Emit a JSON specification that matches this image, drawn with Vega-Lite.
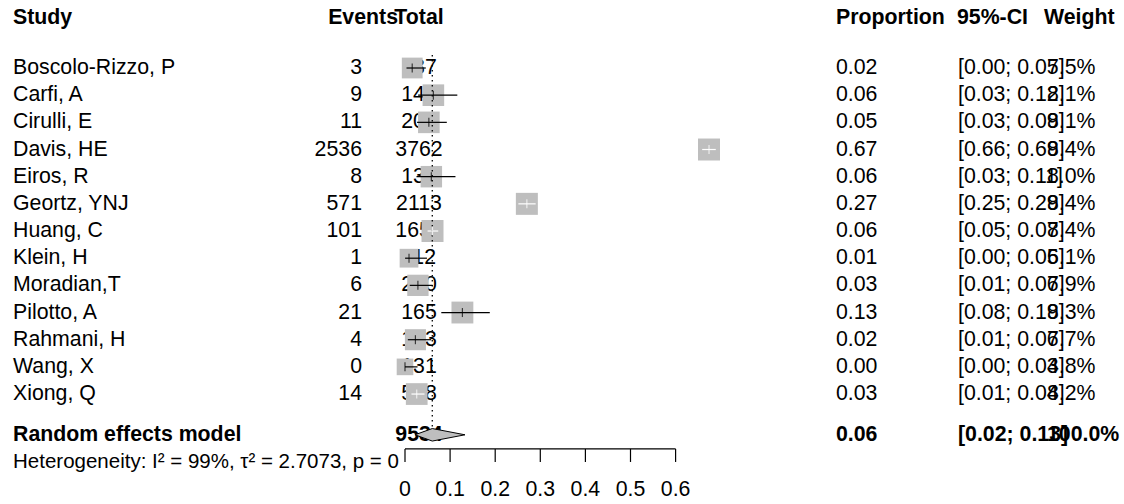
{
  "$schema": "https://vega.github.io/schema/vega-lite/v6.json",
  "width": 1124,
  "height": 504,
  "autosize": {"type": "fit", "contains": "padding"},
  "padding": 0,
  "background": "white",
  "config": {
    "view": {"stroke": null},
    "text": {"font": "Liberation Sans", "fontSize": 21.3, "color": "black", "baseline": "middle"}
  },
  "datasets": {
    "studies": [
      {"study": "Boscolo-Rizzo, P", "events": 3, "total": 187, "proportion": 0.0160, "lower": 0.0033, "upper": 0.0461, "weight": 0.075, "row": 1},
      {"study": "Carfi, A", "events": 9, "total": 143, "proportion": 0.0629, "lower": 0.0291, "upper": 0.1160, "weight": 0.081, "row": 2},
      {"study": "Cirulli, E", "events": 11, "total": 208, "proportion": 0.0529, "lower": 0.0267, "upper": 0.0927, "weight": 0.081, "row": 3},
      {"study": "Davis, HE", "events": 2536, "total": 3762, "proportion": 0.6741, "lower": 0.6589, "upper": 0.6891, "weight": 0.084, "row": 4},
      {"study": "Eiros, R", "events": 8, "total": 137, "proportion": 0.0584, "lower": 0.0255, "upper": 0.1119, "weight": 0.080, "row": 5},
      {"study": "Geortz, YNJ", "events": 571, "total": 2113, "proportion": 0.2702, "lower": 0.2514, "upper": 0.2897, "weight": 0.084, "row": 6},
      {"study": "Huang, C", "events": 101, "total": 1655, "proportion": 0.0610, "lower": 0.0501, "upper": 0.0737, "weight": 0.084, "row": 7},
      {"study": "Klein, H", "events": 1, "total": 112, "proportion": 0.0089, "lower": 0.0002, "upper": 0.0487, "weight": 0.061, "row": 8},
      {"study": "Moradian,T", "events": 6, "total": 210, "proportion": 0.0286, "lower": 0.0106, "upper": 0.0612, "weight": 0.079, "row": 9},
      {"study": "Pilotto, A", "events": 21, "total": 165, "proportion": 0.1273, "lower": 0.0805, "upper": 0.1880, "weight": 0.083, "row": 10},
      {"study": "Rahmani, H", "events": 4, "total": 173, "proportion": 0.0231, "lower": 0.0063, "upper": 0.0581, "weight": 0.077, "row": 11},
      {"study": "Wang, X", "events": 0, "total": 131, "proportion": 0.0, "lower": 0.0, "upper": 0.0278, "weight": 0.048, "row": 12},
      {"study": "Xiong, Q", "events": 14, "total": 538, "proportion": 0.0260, "lower": 0.0143, "upper": 0.0433, "weight": 0.082, "row": 13}
    ],
    "pooled": [
      {"study": "Random effects model", "total": 9534, "proportion": 0.0605, "lower": 0.022, "upper": 0.133, "weight": 1, "row": 14.5}
    ],
    "ticks": [
      {"tick": 0}, {"tick": 0.1}, {"tick": 0.2}, {"tick": 0.3}, {"tick": 0.4}, {"tick": 0.5}, {"tick": 0.6}
    ],
    "one": [{}]
  },
  "layer": [
    {
      "data": {"name": "studies"},
      "mark": {"type": "text", "align": "left"},
      "encoding": {
        "x": {"value": 13},
        "y": {"field": "row", "type": "quantitative", "scale": {"domain": [-1.503, 17.047], "reverse": true, "nice": false, "zero": false}, "axis": null},
        "text": {"field": "study", "type": "nominal"}
      }
    },
    {
      "data": {"name": "studies"},
      "mark": {"type": "text", "align": "right"},
      "encoding": {
        "x": {"value": 362},
        "y": {"field": "row", "type": "quantitative", "scale": {"domain": [-1.503, 17.047], "reverse": true, "nice": false, "zero": false}, "axis": null},
        "text": {"field": "events", "type": "quantitative", "format": "d"}
      }
    },
    {
      "data": {"name": "studies"},
      "mark": {"type": "text", "align": "center"},
      "encoding": {
        "x": {"value": 419},
        "y": {"field": "row", "type": "quantitative", "scale": {"domain": [-1.503, 17.047], "reverse": true, "nice": false, "zero": false}, "axis": null},
        "text": {"field": "total", "type": "quantitative", "format": "d"}
      }
    },
    {
      "data": {"name": "studies"},
      "mark": {"type": "text", "align": "left"},
      "encoding": {
        "x": {"value": 836},
        "y": {"field": "row", "type": "quantitative", "scale": {"domain": [-1.503, 17.047], "reverse": true, "nice": false, "zero": false}, "axis": null},
        "text": {"field": "proportion", "type": "quantitative", "format": ".2f"}
      }
    },
    {
      "data": {"name": "studies"},
      "transform": [
        {"calculate": "'[' + format(datum.lower, '.2f') + '; ' + format(datum.upper, '.2f') + ']'", "as": "ci"}
      ],
      "mark": {"type": "text", "align": "left"},
      "encoding": {
        "x": {"value": 958},
        "y": {"field": "row", "type": "quantitative", "scale": {"domain": [-1.503, 17.047], "reverse": true, "nice": false, "zero": false}, "axis": null},
        "text": {"field": "ci", "type": "nominal"}
      }
    },
    {
      "data": {"name": "studies"},
      "mark": {"type": "text", "align": "left"},
      "encoding": {
        "x": {"value": 1047},
        "y": {"field": "row", "type": "quantitative", "scale": {"domain": [-1.503, 17.047], "reverse": true, "nice": false, "zero": false}, "axis": null},
        "text": {"field": "weight", "type": "quantitative", "format": ".1%"}
      }
    },
    {
      "data": {"name": "pooled"},
      "mark": {"type": "text", "align": "left", "fontWeight": "bold"},
      "encoding": {
        "x": {"value": 13},
        "y": {"field": "row", "type": "quantitative", "scale": {"domain": [-1.503, 17.047], "reverse": true, "nice": false, "zero": false}, "axis": null},
        "text": {"field": "study", "type": "nominal"}
      }
    },
    {
      "data": {"name": "pooled"},
      "mark": {"type": "text", "align": "center", "fontWeight": "bold"},
      "encoding": {
        "x": {"value": 419},
        "y": {"field": "row", "type": "quantitative", "scale": {"domain": [-1.503, 17.047], "reverse": true, "nice": false, "zero": false}, "axis": null},
        "text": {"field": "total", "type": "quantitative", "format": "d"}
      }
    },
    {
      "data": {"name": "pooled"},
      "mark": {"type": "text", "align": "left", "fontWeight": "bold"},
      "encoding": {
        "x": {"value": 836},
        "y": {"field": "row", "type": "quantitative", "scale": {"domain": [-1.503, 17.047], "reverse": true, "nice": false, "zero": false}, "axis": null},
        "text": {"field": "proportion", "type": "quantitative", "format": ".2f"}
      }
    },
    {
      "data": {"name": "pooled"},
      "transform": [
        {"calculate": "'[' + format(datum.lower, '.2f') + '; ' + format(datum.upper, '.2f') + ']'", "as": "ci"}
      ],
      "mark": {"type": "text", "align": "left", "fontWeight": "bold"},
      "encoding": {
        "x": {"value": 958},
        "y": {"field": "row", "type": "quantitative", "scale": {"domain": [-1.503, 17.047], "reverse": true, "nice": false, "zero": false}, "axis": null},
        "text": {"field": "ci", "type": "nominal"}
      }
    },
    {
      "data": {"name": "pooled"},
      "mark": {"type": "text", "align": "left", "fontWeight": "bold"},
      "encoding": {
        "x": {"value": 1047},
        "y": {"field": "row", "type": "quantitative", "scale": {"domain": [-1.503, 17.047], "reverse": true, "nice": false, "zero": false}, "axis": null},
        "text": {"field": "weight", "type": "quantitative", "format": ".1%"}
      }
    },
    {
      "data": {"name": "one"},
      "mark": {"type": "text", "align": "left", "fontSize": 20.5, "text": "Heterogeneity: I² = 99%, τ² = 2.7073, p = 0"},
      "encoding": {
        "x": {"value": 13},
        "y": {"datum": 15.5, "type": "quantitative", "scale": {"domain": [-1.503, 17.047], "reverse": true, "nice": false, "zero": false}, "axis": null}
      }
    },
    {
      "data": {"name": "one"},
      "mark": {"type": "text", "align": "left", "fontWeight": "bold", "text": "Study"},
      "encoding": {
        "x": {"value": 13},
        "y": {"datum": -0.84, "type": "quantitative", "scale": {"domain": [-1.503, 17.047], "reverse": true, "nice": false, "zero": false}, "axis": null}
      }
    },
    {
      "data": {"name": "one"},
      "mark": {"type": "text", "align": "right", "fontWeight": "bold", "text": "Events"},
      "encoding": {
        "x": {"value": 398},
        "y": {"datum": -0.84, "type": "quantitative", "scale": {"domain": [-1.503, 17.047], "reverse": true, "nice": false, "zero": false}, "axis": null}
      }
    },
    {
      "data": {"name": "one"},
      "mark": {"type": "text", "align": "center", "fontWeight": "bold", "text": "Total"},
      "encoding": {
        "x": {"value": 419},
        "y": {"datum": -0.84, "type": "quantitative", "scale": {"domain": [-1.503, 17.047], "reverse": true, "nice": false, "zero": false}, "axis": null}
      }
    },
    {
      "data": {"name": "one"},
      "mark": {"type": "text", "align": "left", "fontWeight": "bold", "text": "Proportion"},
      "encoding": {
        "x": {"value": 836},
        "y": {"datum": -0.84, "type": "quantitative", "scale": {"domain": [-1.503, 17.047], "reverse": true, "nice": false, "zero": false}, "axis": null}
      }
    },
    {
      "data": {"name": "one"},
      "mark": {"type": "text", "align": "left", "fontWeight": "bold", "text": "95%-CI"},
      "encoding": {
        "x": {"value": 957},
        "y": {"datum": -0.84, "type": "quantitative", "scale": {"domain": [-1.503, 17.047], "reverse": true, "nice": false, "zero": false}, "axis": null}
      }
    },
    {
      "data": {"name": "one"},
      "mark": {"type": "text", "align": "left", "fontWeight": "bold", "text": "Weight"},
      "encoding": {
        "x": {"value": 1044},
        "y": {"datum": -0.84, "type": "quantitative", "scale": {"domain": [-1.503, 17.047], "reverse": true, "nice": false, "zero": false}, "axis": null}
      }
    },
    {
      "data": {"name": "studies"},
      "mark": {"type": "point", "shape": "square", "filled": true, "color": "#BEBEBE", "opacity": 1, "strokeWidth": 0},
      "encoding": {
        "x": {"field": "proportion", "type": "quantitative", "scale": {"domain": [-0.898, 1.59424], "nice": false, "zero": false}, "axis": null},
        "y": {"field": "row", "type": "quantitative", "scale": {"domain": [-1.503, 17.047], "reverse": true, "nice": false, "zero": false}, "axis": null},
        "size": {"field": "weight", "type": "quantitative", "scale": {"domain": [0, 0.1], "range": [0, 576]}, "legend": null}
      }
    },
    {
      "data": {"name": "pooled"},
      "mark": {"type": "rule", "strokeDash": [1.5, 3.5], "strokeWidth": 1.3, "color": "black"},
      "encoding": {
        "x": {"field": "proportion", "type": "quantitative", "scale": {"domain": [-0.898, 1.59424], "nice": false, "zero": false}, "axis": null},
        "y": {"datum": 0.52, "type": "quantitative", "scale": {"domain": [-1.503, 17.047], "reverse": true, "nice": false, "zero": false}, "axis": null},
        "y2": {"datum": 14.3}
      }
    },
    {
      "data": {"name": "studies"},
      "mark": {"type": "rule", "strokeWidth": 1.2},
      "encoding": {
        "x": {"field": "lower", "type": "quantitative", "scale": {"domain": [-0.898, 1.59424], "nice": false, "zero": false}, "axis": null},
        "x2": {"field": "upper"},
        "y": {"field": "row", "type": "quantitative", "scale": {"domain": [-1.503, 17.047], "reverse": true, "nice": false, "zero": false}, "axis": null},
        "color": {
          "condition": {"test": "datum.lower >= datum.proportion - 0.0244*sqrt(datum.weight/0.084) && datum.upper <= datum.proportion + 0.0244*sqrt(datum.weight/0.084)", "value": "white"},
          "value": "black"
        }
      }
    },
    {
      "data": {"name": "studies"},
      "mark": {"type": "tick", "orient": "vertical", "size": 9, "thickness": 1.2},
      "encoding": {
        "x": {"field": "proportion", "type": "quantitative", "scale": {"domain": [-0.898, 1.59424], "nice": false, "zero": false}, "axis": null},
        "y": {"field": "row", "type": "quantitative", "scale": {"domain": [-1.503, 17.047], "reverse": true, "nice": false, "zero": false}, "axis": null},
        "color": {
          "condition": {"test": "datum.lower >= datum.proportion - 0.0244*sqrt(datum.weight/0.084) && datum.upper <= datum.proportion + 0.0244*sqrt(datum.weight/0.084)", "value": "white"},
          "value": "black"
        }
      }
    },
    {
      "data": {"name": "pooled"},
      "transform": [
        {"fold": ["lower", "proportion", "upper"], "as": ["part", "xv"]},
        {"calculate": "datum.part == 'proportion' ? datum.row - 0.23 : datum.row", "as": "ytop"},
        {"calculate": "datum.part == 'proportion' ? datum.row + 0.23 : datum.row", "as": "ybot"}
      ],
      "mark": {"type": "area", "fill": "#BEBEBE", "stroke": "black", "strokeWidth": 1, "opacity": 1, "fillOpacity": 1},
      "encoding": {
        "x": {"field": "xv", "type": "quantitative", "scale": {"domain": [-0.898, 1.59424], "nice": false, "zero": false}, "axis": null},
        "y": {"field": "ytop", "type": "quantitative", "scale": {"domain": [-1.503, 17.047], "reverse": true, "nice": false, "zero": false}, "axis": null},
        "y2": {"field": "ybot"}
      }
    },
    {
      "data": {"name": "one"},
      "mark": {"type": "rule", "strokeWidth": 1.2, "color": "black"},
      "encoding": {
        "x": {"datum": 0, "type": "quantitative", "scale": {"domain": [-0.898, 1.59424], "nice": false, "zero": false}, "axis": null},
        "x2": {"datum": 0.6},
        "y": {"datum": 15.02, "type": "quantitative", "scale": {"domain": [-1.503, 17.047], "reverse": true, "nice": false, "zero": false}, "axis": null}
      }
    },
    {
      "data": {"name": "ticks"},
      "mark": {"type": "rule", "strokeWidth": 1.2, "color": "black"},
      "encoding": {
        "x": {"field": "tick", "type": "quantitative", "scale": {"domain": [-0.898, 1.59424], "nice": false, "zero": false}, "axis": null},
        "y": {"datum": 15.02, "type": "quantitative", "scale": {"domain": [-1.503, 17.047], "reverse": true, "nice": false, "zero": false}, "axis": null},
        "y2": {"datum": 15.5}
      }
    },
    {
      "data": {"name": "ticks"},
      "mark": {"type": "text", "align": "center"},
      "encoding": {
        "x": {"field": "tick", "type": "quantitative", "scale": {"domain": [-0.898, 1.59424], "nice": false, "zero": false}, "axis": null},
        "y": {"datum": 16.53, "type": "quantitative", "scale": {"domain": [-1.503, 17.047], "reverse": true, "nice": false, "zero": false}, "axis": null},
        "text": {"field": "tick", "type": "quantitative", "format": "~g"}
      }
    }
  ]
}
